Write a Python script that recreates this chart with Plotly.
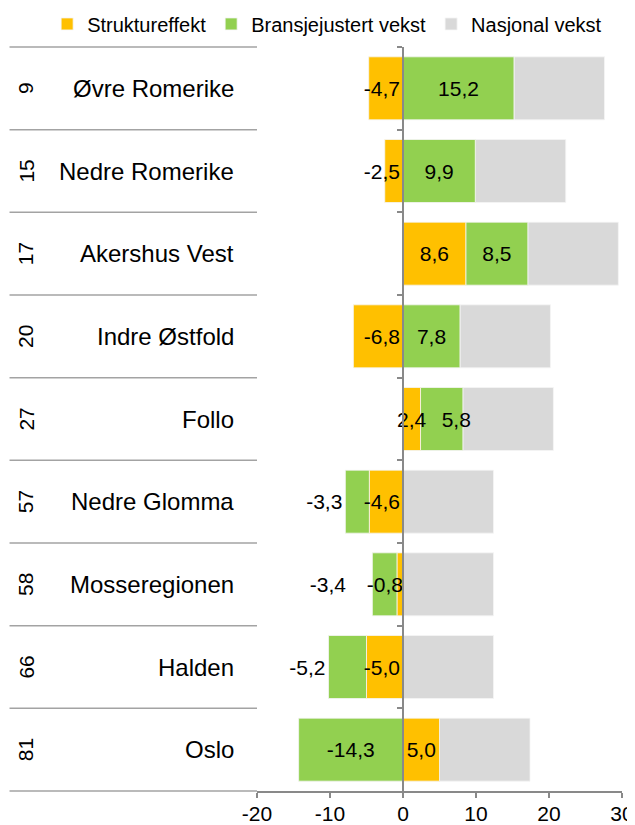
import plotly.graph_objects as go

regions = ["Øvre Romerike", "Nedre Romerike", "Akershus Vest", "Indre Østfold",
           "Follo", "Nedre Glomma", "Mosseregionen", "Halden", "Oslo"]
ranks = ["9", "15", "17", "20", "27", "57", "58", "66", "81"]
struktureffekt = [-4.7, -2.5, 8.6, -6.8, 2.4, -4.6, -0.8, -5.0, 5.0]
bransjejustert = [15.2, 9.9, 8.5, 7.8, 5.8, -3.3, -3.4, -5.2, -14.3]
nasjonal = [12.4, 12.4, 12.4, 12.4, 12.4, 12.4, 12.4, 12.4, 12.4]
x_ticks = [-20, -10, 0, 10, 20, 30]
x_tick_labels = ["-20", "-10", "0", "10", "20", "30"]

FONT = "Liberation Sans, Arial, Helvetica, sans-serif"
ORANGE = "#FFC000"
GREEN = "#92D050"
GRAY = "#D9D9D9"
AXIS = "#898989"
DIV = "#A3A3A3"
EDGE = "#F5F5F5"

# the page body has an 8px default margin; the figure is sized so that it fills
# the 635x825 window exactly from that offset
PAGE_OFFSET = 8
W, H = 635 - PAGE_OFFSET, 825 - PAGE_OFFSET


def fmt(v):
    return f"{v:.1f}".replace(".", ",")


# stacking bases (positive and negative values stack separately, like a relative stack)
base_struktur = [0 for _ in struktureffekt]
base_bransje = [s if (s >= 0) == (b >= 0) else 0 for s, b in zip(struktureffekt, bransjejustert)]
base_nasjonal = [max(s, 0) + max(b, 0) for s, b in zip(struktureffekt, bransjejustert)]

struktur_pos = [v if v >= 0 else None for v in struktureffekt]
struktur_neg = [v if v < 0 else None for v in struktureffekt]

# green labels: pushed away from a short orange bar whose label overflows into them
NBSP = "\u00a0"


def bransje_label(s, b):
    t = fmt(b)
    if 0 < s < 4 and b > 0:
        t = NBSP * 5 + t
    elif -4 < s < 0 and b < 0:
        t = t + NBSP * 4
    return t


bransje_text = [bransje_label(s, b) for s, b in zip(struktureffekt, bransjejustert)]

xmin, xmax = x_ticks[0], x_ticks[-1]
zero_pos = (0 - xmin) / (xmax - xmin)

label_font = dict(family=FONT, size=21, color="#000000")

fig = go.Figure()
# drawn back-to-front so that the orange labels sit above neighbouring bars
fig.add_trace(go.Bar(
    name="Nasjonal vekst", y=regions, x=nasjonal, base=base_nasjonal, orientation="h",
    marker=dict(color=GRAY, line=dict(color=EDGE, width=0.8)),
    hoverinfo="skip", legendrank=3,
))
fig.add_trace(go.Bar(
    name="Bransjejustert vekst", y=regions, x=bransjejustert, base=base_bransje,
    orientation="h",
    marker=dict(color=GREEN, line=dict(color=EDGE, width=0.8)),
    text=bransje_text, texttemplate="%{text}",
    textposition=["outside" if (v < 0 and abs(v) < 6) else "inside" for v in bransjejustert],
    insidetextanchor="middle", constraintext="none",
    textangle=0, textfont=label_font,
    hoverinfo="skip", legendrank=2,
))
fig.add_trace(go.Bar(
    name="Struktureffekt", y=regions, x=struktur_pos, base=base_struktur,
    orientation="h", legendgroup="struktur",
    marker=dict(color=ORANGE, line=dict(color=EDGE, width=0.8)),
    text=[fmt(v) if v is not None else "" for v in struktur_pos], texttemplate="%{text}",
    textposition="inside", insidetextanchor="middle", constraintext="none",
    textangle=0, textfont=label_font,
    hoverinfo="skip", legendrank=1,
))
fig.add_trace(go.Bar(
    name="Struktureffekt", y=regions, x=struktur_neg, base=base_struktur,
    orientation="h", legendgroup="struktur", showlegend=False,
    marker=dict(color=ORANGE, line=dict(color=EDGE, width=0.8)),
    text=[fmt(v) if v is not None else "" for v in struktur_neg], texttemplate="%{text}",
    textposition="inside", insidetextanchor="start", constraintext="none",
    textangle=0, textfont=label_font,
    hoverinfo="skip",
))

n = len(regions)
shapes = []
for k in range(n + 1):
    shapes.append(dict(type="line", xref="paper", yref="paper",
                       x0=-0.678, x1=0, y0=k / n, y1=k / n,
                       line=dict(color=DIV, width=1.5)))

annotations = []
for r, name in zip(ranks, regions):
    annotations.append(dict(xref="paper", yref="y", x=-0.634, y=name, text=r,
                            textangle=-90, showarrow=False, xanchor="center",
                            font=dict(family=FONT, size=21, color="#000000")))
    annotations.append(dict(xref="paper", yref="y", x=-0.058, y=name, text=name,
                            showarrow=False, xanchor="right",
                            font=dict(family=FONT, size=24, color="#000000")))

fig.update_layout(
    width=W, height=H,
    barmode="overlay", bargap=0.238,
    margin=dict(l=257 - PAGE_OFFSET, r=13, t=47 - PAGE_OFFSET, b=34, autoexpand=False),
    paper_bgcolor="white", plot_bgcolor="white",
    font=dict(family=FONT, size=21, color="#000000"),
    showlegend=True,
    legend=dict(orientation="h", x=-0.575, xanchor="left", y=1.031, yanchor="middle",
                font=dict(family=FONT, size=20, color="#000000"),
                traceorder="normal", bgcolor="rgba(0,0,0,0)"),
    xaxis=dict(range=[xmin, xmax], tickvals=x_ticks, ticktext=x_tick_labels,
               showgrid=False, zeroline=False, showline=True, linecolor=AXIS,
               linewidth=1.5, ticks="outside", ticklen=5, tickcolor=AXIS,
               tickwidth=1.5, tickfont=dict(family=FONT, size=21, color="#000000"),
               ticklabelstandoff=-2, fixedrange=True),
    yaxis=dict(categoryorder="array", categoryarray=regions, autorange="reversed",
               showticklabels=False, showgrid=False, zeroline=False,
               showline=True, linecolor=AXIS, linewidth=2,
               ticks="outside", ticklen=5, tickcolor=AXIS, tickwidth=1.5,
               tickson="boundaries", anchor="free", position=zero_pos,
               fixedrange=True),
    shapes=shapes,
    annotations=annotations,
)

fig.write_html("out.html")
